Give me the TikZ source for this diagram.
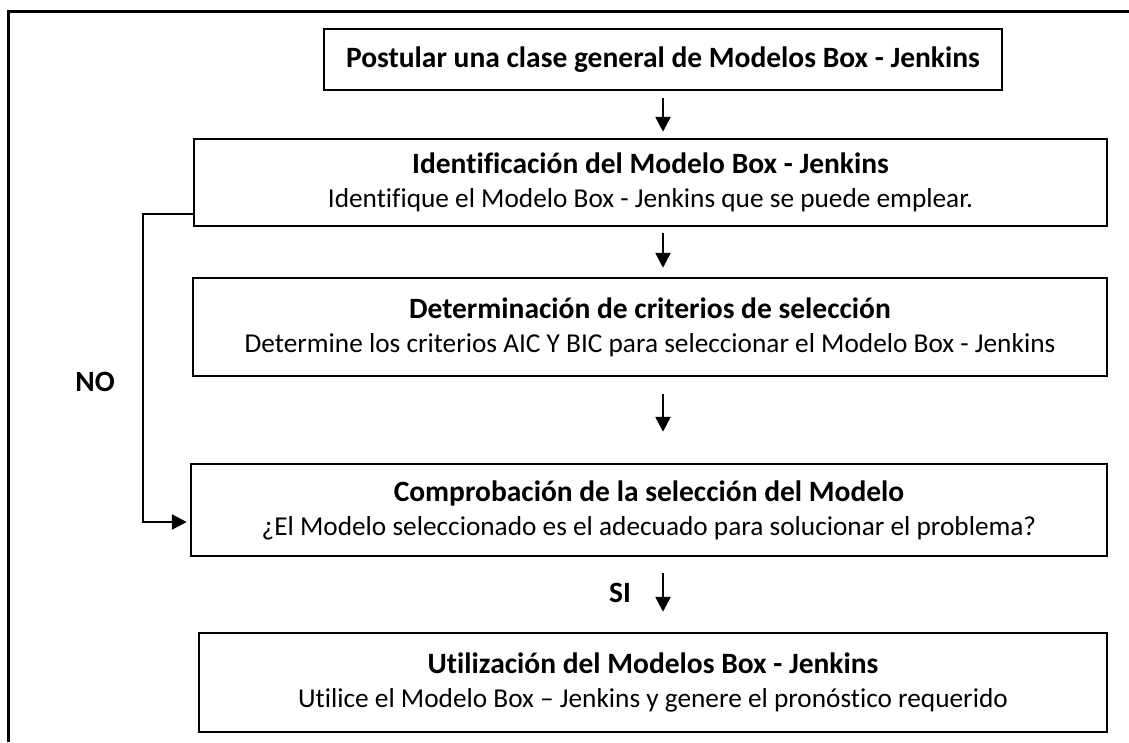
\documentclass[tikz,border=0pt]{standalone}
\usepackage{fontspec}
\setmainfont{Carlito}[Ligatures=NoCommon]
\usepackage{tikz}
\usetikzlibrary{arrows.meta, positioning}
\newcommand{\stagetitle}[1]{{\fontsize{29.5}{34}\selectfont\bfseries #1}}

\begin{document}
\begin{tikzpicture}[
    x=1pt, y=-1pt,
    every node/.style={font=\fontsize{27.3}{34}\selectfont},
    stagebox/.style={rectangle, draw=black, line width=2.5pt, inner sep=0pt, align=center},
    arrow/.style={-{Triangle[width=15pt, length=15pt]}, line width=2.5pt, black},
    label/.style={font=\fontsize{29.5}{34}\selectfont\bfseries}
]
    \useasboundingbox (0,0) rectangle (1129,742);
    % Outer frame
    \draw[line width=3pt] (1129,11) -- (8,11) -- (8,742);

    % Stages
    \node[stagebox, minimum width=678pt, minimum height=61pt] (B1) at (663,59.5)
        {\stagetitle{Postular una clase general de Modelos Box - Jenkins}};
    \node[stagebox, minimum width=913pt, minimum height=87pt] (B2) at (650.5,182.5)
        {\stagetitle{Identificación del Modelo Box - Jenkins}\\Identifique el Modelo Box - Jenkins que se puede emplear.};
    \node[stagebox, minimum width=914pt, minimum height=98pt] (B3) at (650,327)
        {\stagetitle{Determinación de criterios de selección}\\Determine los criterios AIC Y BIC para seleccionar el Modelo Box - Jenkins};
    \node[stagebox, minimum width=916pt, minimum height=92pt] (B4) at (649,510)
        {\stagetitle{Comprobación de la selección del Modelo}\\¿El Modelo seleccionado es el adecuado para solucionar el problema?};
    \node[stagebox, minimum width=908pt, minimum height=99pt] (B5) at (653,682.5)
        {\stagetitle{Utilización del Modelos Box - Jenkins}\\Utilice el Modelo Box – Jenkins y genere el pronóstico requerido};

    % Arrows
    \draw[arrow, shorten <=7pt, shorten >=6pt] (B1.south) -- (B1.south |- B2.north);
    \draw[arrow, shorten <=6pt, shorten >=9pt] (B1.south |- B2.south) -- (B1.south |- B3.north);
    \draw[arrow, shorten <=17pt, shorten >=31pt] (B1.south |- B3.south) -- (B1.south |- B4.north);
    \draw[arrow, shorten <=16pt, shorten >=20pt] (B1.south |- B4.south) -- (B1.south |- B5.north);
    \draw[arrow, shorten >=3pt] ([yshift=-31.5pt]B2.west) -- (143,214) |- ([yshift=-12pt]B4.west);

    % Labels
    \node[label] (no) at (95,382) {NO};
    \node[label] (si) at (620,593) {SI};
\end{tikzpicture}
\end{document}
